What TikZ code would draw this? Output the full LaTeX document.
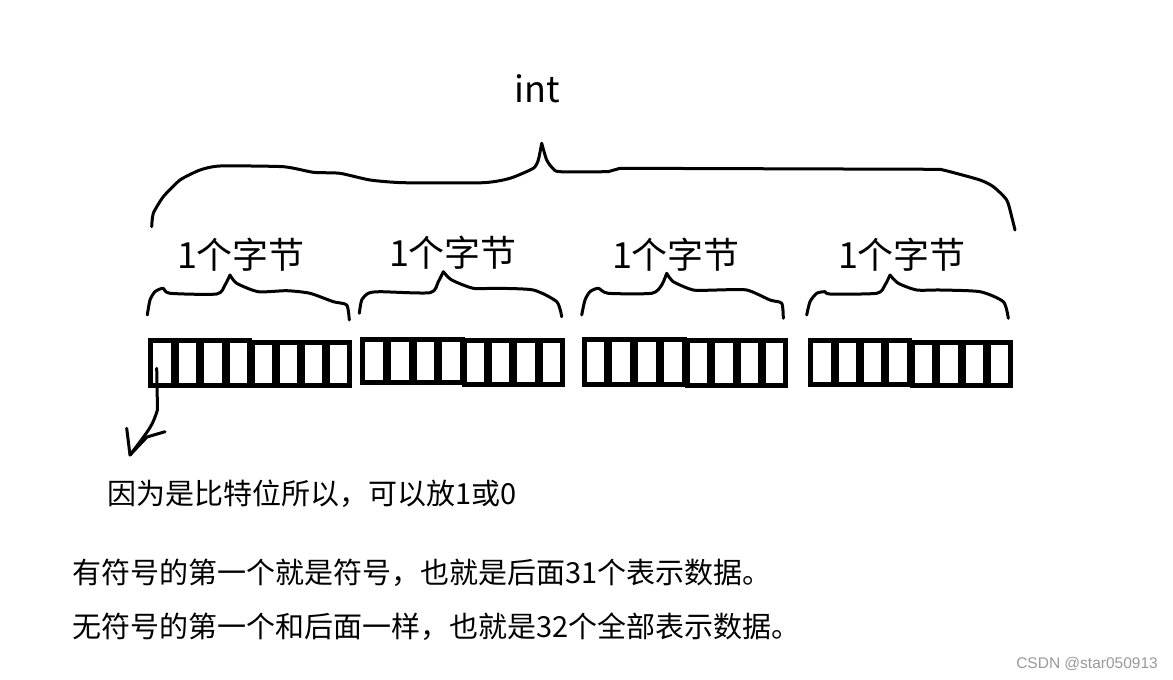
\documentclass[tikz,border=0pt]{standalone}
\usepackage{fontspec}
\newfontfamily\cjk{Noto Sans CJK SC}
\newfontfamily\wmfont{Liberation Sans}
\newcommand\bithalf[4]{%
  \fill[black] (#1,#2) rectangle (#3,#4);
  \pgfmathsetmacro\cellw{(#3-#1-10-24)/4}
  \foreach \i in {0,1,2,3}{
    \fill[white] ({#1+5+\i*(\cellw+8)},{#2+5}) rectangle ++(\cellw,{#4-#2-10});
  }}
\begin{document}
\begin{tikzpicture}[x=1pt,y=-1pt,
  hand/.style={line width=3pt,line cap=round,line join=round,black},
  bigtxt/.style={font=\cjk\fontsize{36}{40}\selectfont,inner sep=0pt},
  bodytxt/.style={font=\cjk\fontsize{29}{33}\selectfont,inner sep=0pt,anchor=west},
  wm/.style={font=\wmfont\fontsize{15.5}{18}\selectfont,text=black!40,inner sep=0pt,anchor=east}]
\useasboundingbox[fill=white] (0,0) rectangle (1173,680);

% title
\node[bigtxt] (int) at (537,89) {int};

% big brace
\draw[hand] plot[smooth,tension=0.35] coordinates {(151.7,226.7) (153.3,213.3) (163.3,196.7) (180,180) (200,170) (220,166) (283.3,166.7) (313.3,172.3) (340,173.3) (370,180) (403.3,182.7) (483.3,182.7) (510,178.3) (533.3,168.3) (538.3,160) (541.7,143.3)};
\draw[hand] plot[smooth,tension=0.4] coordinates {(541.7,143.3) (546.7,160) (553,168.5) (560,171.7) (608,171.7)}
  -- (620,168.3) -- (940,169.3);
\draw[hand] plot[smooth,tension=0.4] coordinates {(940,169.3) (950,171.7) (980,180) (993.3,186.7) (1006.7,200) (1011.7,216.7) (1015,230)};

% byte labels
\node[bigtxt] (b1) at (241,255) {1个字节};
\node[bigtxt] (b2) at (453,253) {1个字节};
\node[bigtxt] (b3) at (676,255) {1个字节};
\node[bigtxt] (b4) at (902,255) {1个字节};

% small braces
\draw[hand] plot[smooth,tension=0.4] coordinates {(147.3,315) (150,300) (155,291.7) (163,288.3) (170,293.3) (216.7,294) (225,285) (230,275)};
\draw[hand] plot[smooth,tension=0.4] coordinates {(230,275) (236.7,283.3) (258.3,291.7) (286.7,290.7) (310,293.3) (333.3,301.7) (346.7,305) (349.3,320)};

\draw[hand] plot[smooth,tension=0.4] coordinates {(359.3,313.3) (361.7,300) (368.3,293.3) (380,291.7) (430,292.7) (438.3,281.7) (443.3,271.7)};
\draw[hand] plot[smooth,tension=0.4] coordinates {(443.3,271.7) (451.7,280) (473.3,288.3) (496.7,288.3) (533.3,290) (556.7,301.7) (561.7,316.7)};

\draw[hand] plot[smooth,tension=0.4] coordinates {(581.7,315) (585,300) (590,291.7) (598.3,288.3) (608.3,293.3) (651.7,293.3) (661.7,285) (666.7,273.3)};
\draw[hand] plot[smooth,tension=0.4] coordinates {(666.7,273.3) (673.3,281.7) (693.3,290) (716.7,290) (746.7,290) (770,300) (781.7,303.3) (783.3,318.3)};

\draw[hand] plot[smooth,tension=0.4] coordinates {(806.7,315) (810,301.7) (816.7,293.3) (825,291.7) (830,294) (876.7,293.3) (885,285) (890,275)};
\draw[hand] plot[smooth,tension=0.4] coordinates {(890,275) (898.3,283.3) (916.7,290) (940,290) (980,291.7) (1003.3,301.7) (1008.3,318.3)};

% bit boxes
\bithalf{148.3}{338.3}{252}{388.3}
\bithalf{250}{340}{351.7}{388.3}
\bithalf{360}{336.7}{465}{385}
\bithalf{461.7}{338.3}{565}{386.7}
\bithalf{581.7}{336.7}{686.7}{386.7}
\bithalf{685}{338.3}{788.3}{388.3}
\bithalf{808.3}{338.3}{911.7}{386.7}
\bithalf{910}{340}{1013.3}{388.3}

% hand-drawn arrow from the first bit
\coordinate (bit) at (156.7,368.3);
\coordinate (tip) at (130,455);
\draw[hand] (bit) -- (157.5,410) .. controls (152,426) .. (tip);
\draw[hand] (126.7,428.3) -- (tip) -- (147,437) -- (165,431.7);

% texts
\node[bodytxt] (note) at (107,494) {因为是比特位所以，可以放1或0};
\node[bodytxt] (l1) at (72,573) {有符号的第一个就是符号，也就是后面31个表示数据。};
\node[bodytxt] (l2) at (72,627) {无符号的第一个和后面一样，也就是32个全部表示数据。};

\node[wm] (wmk) at (1158,664) {CSDN @star050913};
\end{tikzpicture}
\end{document}
